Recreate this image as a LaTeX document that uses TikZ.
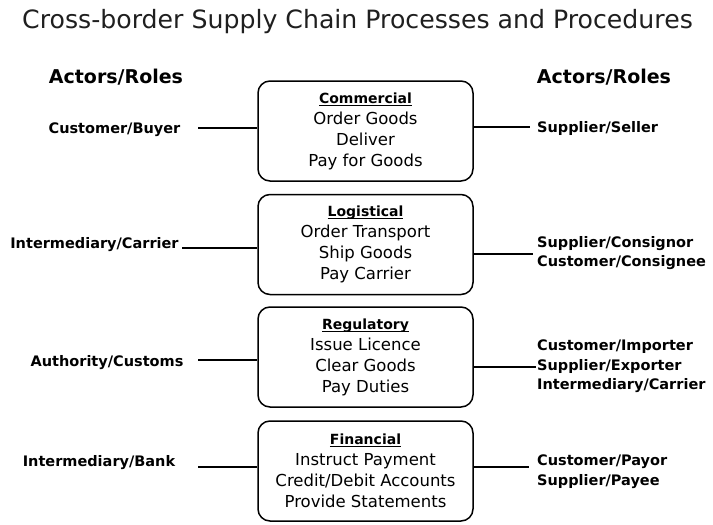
\documentclass[tikz,border=0pt]{standalone}
\usepackage{fontspec}
\setmainfont{DejaVu Sans}
\newcommand\hdline[1]{{\fontsize{14}{21}\selectfont\bfseries\setbox0\hbox{#1}\rlap{\rule[-2.6pt]{\wd0}{1.1pt}}\box0}}
\tikzset{
  procbox/.style={draw, line width=1.5pt, rounded corners=12pt, minimum width=215pt,
    minimum height=100pt, align=center, inner sep=0pt,
    font=\fontsize{16.5}{21}\selectfont},
  actor/.style={font=\bfseries\fontsize{14.5}{19.5}\selectfont, inner sep=0pt, align=left},
  hdr/.style={font=\bfseries\fontsize{19}{20}\selectfont, inner sep=0pt},
  link/.style={line width=1.3pt},
}
\begin{document}
\begin{tikzpicture}[x=1pt,y=-1pt]
\useasboundingbox (0,0) rectangle (713,525);
% title
\node[anchor=base, inner sep=0pt, font=\fontsize{25.2}{28}\selectfont, text=black!88] (title) at (357.5,28)
  {Cross-border Supply Chain Processes and Procedures};
% headers
\node[hdr, anchor=base] (hl) at (116,83) {Actors/Roles};
\node[hdr, anchor=base] (hr) at (604,83) {Actors/Roles};
% process boxes
\node[procbox] (b1) at (365.5,131) {\hdline{Commercial}\\Order Goods\\Deliver\\Pay for Goods};
\node[procbox] (b2) at (365.5,244.5) {\hdline{Logistical}\\Order Transport\\Ship Goods\\Pay Carrier};
\node[procbox] (b3) at (365.5,357) {\hdline{Regulatory}\\Issue Licence\\Clear Goods\\Pay Duties};
\node[procbox] (b4) at (365.5,471) {\hdline{Financial}\\Instruct Payment\\Credit/Debit Accounts\\Provide Statements};
% left actors
\node[actor, anchor=base] (l1) at (114.5,133) {Customer/Buyer};
\node[actor, anchor=base] (l2) at (94.5,248) {Intermediary/Carrier};
\node[actor, anchor=base] (l3) at (107,366) {Authority/Customs};
\node[actor, anchor=base] (l4) at (99,466) {Intermediary/Bank};
% right actors
\node[actor, anchor=base west] (r1) at (537,132) {Supplier/Seller};
\node[actor, anchor=north west] (r2) at (537,236) {Supplier/Consignor\\Customer/Consignee};
\node[actor, anchor=north west] (r3) at (537,340) {Customer/Importer\\Supplier/Exporter\\Intermediary/Carrier};
\node[actor, anchor=north west] (r4) at (537,455) {Customer/Payor\\Supplier/Payee};
% connector ends
\coordinate (cl1) at (198,128);
\coordinate (cl2) at (182,248);
\coordinate (cl3) at (198,360);
\coordinate (cl4) at (198,467);
\coordinate (cr1) at (530,127);
\coordinate (cr2) at (533,254);
\coordinate (cr3) at (536,367);
\coordinate (cr4) at (529,467);
% connectors
\draw[link] (cl1) -- (cl1 -| b1.west);
\draw[link] (cl2) -- (cl2 -| b2.west);
\draw[link] (cl3) -- (cl3 -| b3.west);
\draw[link] (cl4) -- (cl4 -| b4.west);
\draw[link] (cr1 -| b1.east) -- (cr1);
\draw[link] (cr2 -| b2.east) -- (cr2);
\draw[link] (cr3 -| b3.east) -- (cr3);
\draw[link] (cr4 -| b4.east) -- (cr4);
\end{tikzpicture}
\end{document}
